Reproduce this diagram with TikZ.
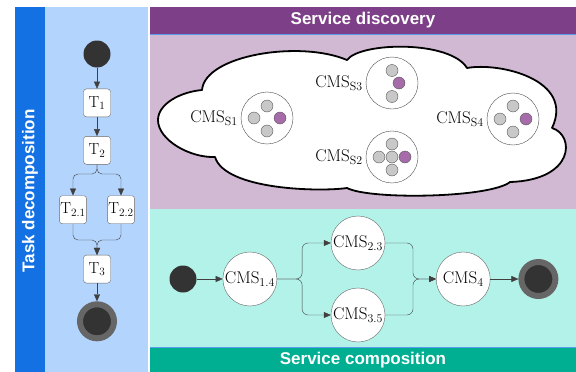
\documentclass[tikz,border=0pt]{standalone}
\usepackage{fontspec}
\setsansfont{Liberation Sans}
\usepackage{tikz}
\usetikzlibrary{arrows.meta,positioning}
\definecolor{taskblue}{HTML}{1371E3}
\definecolor{tasklight}{HTML}{B3D4FC}
\definecolor{discohead}{HTML}{7D3F87}
\definecolor{discobody}{HTML}{D1B8D3}
\definecolor{compobody}{HTML}{B3F2E9}
\definecolor{compohead}{HTML}{00AE92}
\definecolor{dotgray}{HTML}{C8C8C8}
\definecolor{dotpurple}{HTML}{A66BA9}
\definecolor{startdark}{HTML}{333333}
\definecolor{endring}{HTML}{666666}

\begin{document}
\begin{tikzpicture}[
    x=1pt, y=-1pt,
    node distance=20pt and 20pt,
    bandtitle/.style={text=white, font=\sffamily\bfseries\fontsize{17}{20}\selectfont},
    task/.style={draw=black!60, fill=white, rounded corners=3pt, minimum width=27pt, minimum height=28pt, inner sep=1pt, font=\fontsize{16}{18}\selectfont},
    cms/.style={circle, draw=black!60, fill=white, minimum size=54pt, inner sep=0pt, font=\fontsize{17}{19}\selectfont},
    group/.style={circle, draw=black!70, fill=white, minimum size=52pt, inner sep=0pt},
    dot/.style={circle, draw=black!65, fill=dotgray, minimum size=12pt, inner sep=0pt},
    pdot/.style={dot, fill=dotpurple},
    lbl/.style={font=\fontsize{17}{19}\selectfont, inner sep=0pt},
    startnode/.style={circle, fill=startdark, minimum size=27pt, inner sep=0pt},
    endnode/.style={circle, fill=startdark, draw=endring, line width=6pt, minimum size=34pt, inner sep=0pt},
    cloudline/.style={draw=black, line width=1.8pt, fill=white, line join=round},
    arrow/.style={-{Triangle[length=7pt,width=6pt]}, draw=black!75, thin}
]
    \useasboundingbox (0,0) rectangle (576,372);

    % Bands
    \fill[tasklight] (45,7) rectangle (148,372);
    \fill[taskblue] (15,7) rectangle (45,372);
    \fill[discohead] (150,7) rectangle (576,34);
    \fill[discobody] (150,34) rectangle (576,209);
    \fill[compobody] (150,209) rectangle (576,347);
    \fill[compohead] (150,347) rectangle (576,372);
    \draw[taskblue!70, thin] (150,34) -- (576,34);
    \draw[taskblue!70, thin] (150,347) -- (576,347);

    \node[bandtitle, rotate=90] (tasktitle) at (30,191) {Task decomposition};
    \node[bandtitle] (discotitle) at (363,20) {Service discovery};
    \node[bandtitle] (compotitle) at (363,360) {Service composition};

    % Task decomposition
    \node[startnode] (tstart) at (97,54) {};
    \node[task, below=21pt of tstart] (t1) {T\textsubscript{1}};
    \node[task, below=19pt of t1] (t2) {T\textsubscript{2}};
    \node[task, below=31pt of t2, xshift=-24pt] (t21) {T\textsubscript{2.1}};
    \node[task, below=31pt of t2, xshift=24pt] (t22) {T\textsubscript{2.2}};
    \node[task, below=31pt of t21, xshift=24pt] (t3) {T\textsubscript{3}};
    \node[endnode, below=18pt of t3] (tend) {};
    \coordinate (fork) at (97,174);
    \coordinate (join) at (97,240);

    \draw[arrow] (tstart) -- (t1);
    \draw[arrow] (t1) -- (t2);
    \draw[arrow, rounded corners=5pt] (t2) -- (fork) -| (t21);
    \draw[arrow, rounded corners=5pt] (t2) -- (fork) -| (t22);
    \draw[arrow, rounded corners=5pt] (t21) |- (join) -- (t3);
    \draw[arrow, rounded corners=5pt] (t22) |- (join) -- (t3);
    \draw[arrow] (t3) -- (tend);

    % Service discovery: the cloud
    \path[cloudline] (158,120)
        .. controls (158,104) and (180,92) .. (202,90)
        .. controls (205,55) and (300,40) .. (347,60)
        .. controls (360,42) and (450,40) .. (467,68)
        .. controls (500,62) and (575,80) .. (552,128)
        .. controls (575,135) and (575,180) .. (510,182)
        .. controls (490,198) and (370,200) .. (347,188)
        .. controls (320,192) and (225,190) .. (215,157)
        .. controls (190,158) and (158,140) .. (158,120) -- cycle;

    \node[group] (s1) at (267,118) {};
    \node[dot] (s1a) at ([yshift=12pt]s1) {};
    \node[dot] (s1b) at ([xshift=-13pt]s1) {};
    \node[pdot] (s1c) at ([xshift=13pt]s1) {};
    \node[dot] (s1d) at ([yshift=-13pt]s1) {};
    \node[lbl, left=3pt of s1] (l1) {CMS\textsubscript{S1}};

    \node[group] (s3) at (392,83) {};
    \node[dot] (s3a) at ([yshift=12.5pt]s3) {};
    \node[pdot] (s3b) at ([xshift=7pt]s3) {};
    \node[dot] (s3c) at ([yshift=-13.5pt]s3) {};
    \node[lbl, left=3pt of s3] (l3) {CMS\textsubscript{S3}};

    \node[group] (s2) at (392,157) {};
    \node[dot] (s2a) at ([yshift=13pt]s2) {};
    \node[dot] (s2b) at ([xshift=-13pt]s2) {};
    \node[dot] (s2c) at (s2) {};
    \node[pdot] (s2d) at ([xshift=13pt]s2) {};
    \node[dot] (s2e) at ([yshift=-13pt]s2) {};
    \node[lbl, left=3pt of s2] (l2) {CMS\textsubscript{S2}};

    \node[group] (s4) at (513,119) {};
    \node[dot] (s4a) at ([yshift=13pt]s4) {};
    \node[dot] (s4b) at ([xshift=-13pt]s4) {};
    \node[pdot] (s4c) at ([xshift=13pt]s4) {};
    \node[dot] (s4d) at ([yshift=-13pt]s4) {};
    \node[lbl, left=3pt of s4] (l4) {CMS\textsubscript{S4}};

    % Service composition
    \node[startnode] (cstart) at (183,279) {};
    \node[cms, right=26pt of cstart] (c14) {CMS\textsubscript{1.4}};
    \coordinate[right=25pt of c14] (split);
    \node[cms] (c23) at (358,243) {CMS\textsubscript{2.3}};
    \node[cms] (c35) at (358,315) {CMS\textsubscript{3.5}};
    \coordinate (merge) at (413,279);
    \node[cms, right=23pt of merge] (c4) {CMS\textsubscript{4}};
    \node[endnode, right=28pt of c4] (cend) {};

    \draw[arrow] (cstart) -- (c14);
    \draw[arrow, rounded corners=6pt] (c14) -- (split) |- (c23);
    \draw[arrow, rounded corners=6pt] (c14) -- (split) |- (c35);
    \draw[arrow, rounded corners=6pt] (c23) -| (merge) -- (c4);
    \draw[arrow, rounded corners=6pt] (c35) -| (merge) -- (c4);
    \draw[arrow] (c4) -- (cend);
\end{tikzpicture}
\end{document}
